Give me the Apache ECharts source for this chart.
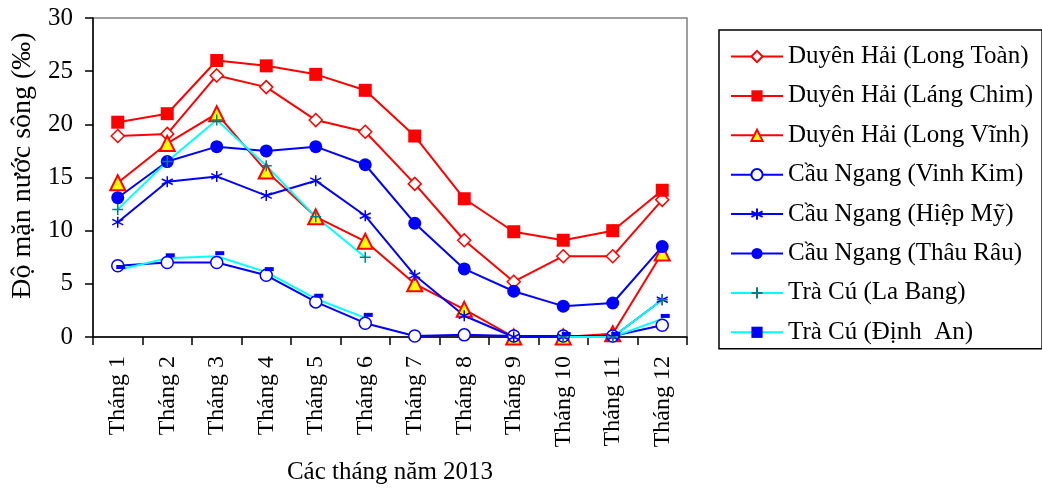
<!DOCTYPE html>
<html><head><meta charset="utf-8">
<script src="https://cdn.jsdelivr.net/npm/echarts@6/dist/echarts.min.js"></script>
<style>html,body{margin:0;padding:0;background:#fff}#c{width:1042px;height:488px}</style>
</head><body><div id="c"></div>
<script>
const categories = ['Tháng 1','Tháng 2','Tháng 3','Tháng 4','Tháng 5','Tháng 6','Tháng 7','Tháng 8','Tháng 9','Tháng 10','Tháng 11','Tháng 12'];
const yTicks = [0,5,10,15,20,25,30];
const longToan = [18.9,19.1,24.6,23.5,20.4,19.3,14.4,9.1,5.2,7.6,7.6,12.9];
const langChim = [20.2,21.0,26.0,25.5,24.7,23.2,18.9,13.0,9.9,9.1,10.0,13.8];
const longVinh = [14.5,18.2,21.0,15.6,11.3,9.0,5.0,2.6,0,0,0.3,7.9];
const vinhKim = [6.7,7.0,7.0,5.8,3.3,1.3,0.1,0.2,0.1,0.1,0.1,1.1];
const hiepMy = [10.8,14.6,15.1,13.3,14.7,11.4,5.8,2.0,0,0,0,3.5];
const thauRau = [13.1,16.5,17.9,17.5,17.9,16.2,10.7,6.4,4.3,2.9,3.2,8.5];
const laBang = [12.0,16.5,20.4,16.1,11.3,7.5,null,null,null,0,0,3.5];
const dinhAn = [6.3,7.4,7.6,6.1,3.6,1.8,null,null,null,0,0,1.7];

const FONT = '"Liberation Serif","Times New Roman",serif';
const RED='#FF0000', BLUE='#0000FF', CYAN='#00FFFF', TEAL='#008080';
const asterisk = 'path://M0,-10L0,10M-8.7,-5L8.7,5M8.7,-5L-8.7,5';
const plus = 'path://M0,-10L0,10M-10,0L10,0';

function mk(name, data, color, symbol, size, itemStyle, extra){
  return Object.assign({
    name, type:'line', data, symbol, symbolSize:size, showAllSymbol:true,
    connectNulls:false,
    lineStyle:{color, width:2},
    itemStyle:Object.assign({color}, itemStyle||{}),
    emphasis:{disabled:true}, animation:false
  }, extra||{});
}

const chart = echarts.init(document.getElementById('c'), null, {renderer:'canvas'});
chart.setOption({
  animation:false,
  textStyle:{fontFamily:FONT},
  grid:{left:93, top:18, width:594, height:319, outerBoundsMode:'none', containLabel:false, show:true, borderColor:'#808080', borderWidth:1.5, backgroundColor:'transparent'},
  legend:{
    orient:'vertical', left:719, top:30,
    padding:[14,9,4,11],
    borderColor:'#000', borderWidth:1.5,
    itemWidth:52, itemHeight:14, itemGap:14.4,
    textStyle:{fontFamily:FONT, fontSize:25, color:'#000', lineHeight:25},
    data:['Duyên Hải (Long Toàn)','Duyên Hải (Láng Chim)','Duyên Hải (Long Vĩnh)','Cầu Ngang (Vinh Kim)','Cầu Ngang (Hiệp Mỹ)','Cầu Ngang (Thâu Râu)','Trà Cú (La Bang)','Trà Cú (Định  An)']
  },
  xAxis:{
    type:'category', data:categories, boundaryGap:true,
    name:'Các tháng năm 2013', nameLocation:'middle', nameGap:123,
    nameTextStyle:{fontFamily:FONT, fontSize:25, color:'#000'},
    axisLine:{lineStyle:{color:'#000', width:1.5}},
    axisTick:{show:true, inside:false, length:8, lineStyle:{color:'#000', width:1.5}},
    axisLabel:{rotate:90, fontFamily:FONT, fontSize:24, color:'#000', margin:19, interval:0},
    splitLine:{show:false}
  },
  yAxis:{
    type:'value', min:yTicks[0], max:yTicks[yTicks.length-1], interval:5,
    name:'Độ mặn nước sông (‰)', nameLocation:'middle', nameGap:56,
    nameTextStyle:{fontFamily:FONT, fontSize:28, color:'#000', padding:[0,0,0,24]},
    axisLine:{show:true, lineStyle:{color:'#000', width:1.5}},
    axisTick:{show:true, inside:false, length:8, lineStyle:{color:'#000', width:1.5}},
    axisLabel:{fontFamily:FONT, fontSize:25, color:'#000', margin:20},
    splitLine:{show:false}
  },
  series:[
    mk('Duyên Hải (Long Toàn)', longToan, RED, 'diamond', 13, {color:'#fff', borderColor:RED, borderWidth:1.5}),
    mk('Duyên Hải (Láng Chim)', langChim, RED, 'rect', 13, {color:RED}),
    mk('Duyên Hải (Long Vĩnh)', longVinh, RED, 'triangle', 15, {color:'#FFFF00', borderColor:RED, borderWidth:2}),
    mk('Cầu Ngang (Vinh Kim)', vinhKim, BLUE, 'circle', 12, {color:'#fff', borderColor:BLUE, borderWidth:1.5}),
    mk('Cầu Ngang (Hiệp Mỹ)', hiepMy, BLUE, asterisk, 11, {color:BLUE, borderColor:BLUE, borderWidth:1.5}),
    mk('Cầu Ngang (Thâu Râu)', thauRau, BLUE, 'circle', 13, {color:BLUE}),
    mk('Trà Cú (La Bang)', laBang, CYAN, plus, 11, {color:TEAL, borderColor:TEAL, borderWidth:1.5}),
    mk('Trà Cú (Định  An)', dinhAn, CYAN, 'rect', [9,4], {color:BLUE}, {symbolOffset:[3,-3]})
  ]
});
</script></body></html>
